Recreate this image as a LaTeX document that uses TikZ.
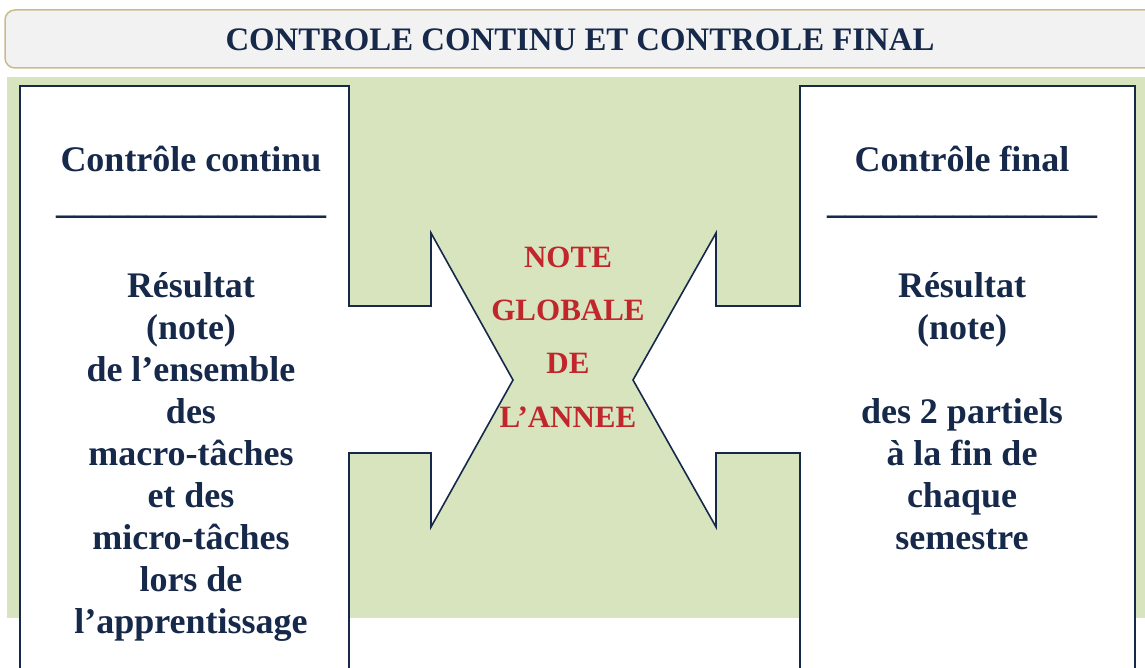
\documentclass[tikz,border=0pt]{standalone}
\usepackage{fontspec}
\setmainfont{Liberation Serif}
\definecolor{navy}{HTML}{16294A}
\definecolor{redtxt}{HTML}{C0262C}
\definecolor{greenbg}{HTML}{D7E4BD}
\definecolor{titlefill}{HTML}{F2F2F2}
\definecolor{tan}{HTML}{C9BB8E}
\begin{document}
\begin{tikzpicture}[x=1pt,y=-1pt,
  callout/.style={draw=navy,fill=white,line width=1.6pt,line join=miter},
  sidetext/.style={text=navy,align=center,inner sep=0pt,anchor=base,
    font=\bfseries\fontsize{36}{42}\selectfont},
  midtext/.style={text=redtxt,align=center,inner sep=0pt,anchor=base,
    font=\bfseries\fontsize{31}{53.3}\selectfont},
  titletext/.style={text=navy,inner sep=0pt,anchor=base,
    font=\bfseries\fontsize{32.8}{38}\selectfont}]
\useasboundingbox (0,0) rectangle (1145,668);
\clip (0,0) rectangle (1145,668);
% title bar
\draw[draw=tan,fill=titlefill,line width=1.5pt,rounded corners=10pt]
  (5,10) rectangle (1170,68);
\node[titletext] (title) at (580,51) {CONTROLE CONTINU ET CONTROLE FINAL};
% green background
\fill[greenbg] (7,77) rectangle (1160,618);
% left callout
\draw[callout] (20,86) -- (349,86) -- (349,306) -- (431,306) -- (431,233)
  -- (513,380) -- (431,527) -- (431,453) -- (349,453) -- (349,690)
  -- (20,690) -- cycle;
% right callout
\draw[callout] (1135,86) -- (800,86) -- (800,306) -- (716,306) -- (716,233)
  -- (633,380) -- (716,527) -- (716,453) -- (800,453) -- (800,690)
  -- (1135,690) -- cycle;
% texts (base anchor = baseline of the last line)
\node[sidetext] (left) at (191,633) {Contrôle continu\\
  \_\_\_\_\_\_\_\_\_\_\_\_\_\_\_\\[42pt]
  Résultat\\(note)\\de l’ensemble\\des\\macro-tâches\\et des\\micro-tâches\\lors de\\l’apprentissage};
\node[sidetext] (right) at (962,549) {Contrôle final\\
  \_\_\_\_\_\_\_\_\_\_\_\_\_\_\_\\[42pt]
  Résultat\\(note)\\[42pt]des 2 partiels\\à la fin de\\chaque\\semestre};
\node[midtext] (mid) at (568,427) {NOTE\\GLOBALE\\DE\\L’ANNEE};
\end{tikzpicture}
\end{document}
